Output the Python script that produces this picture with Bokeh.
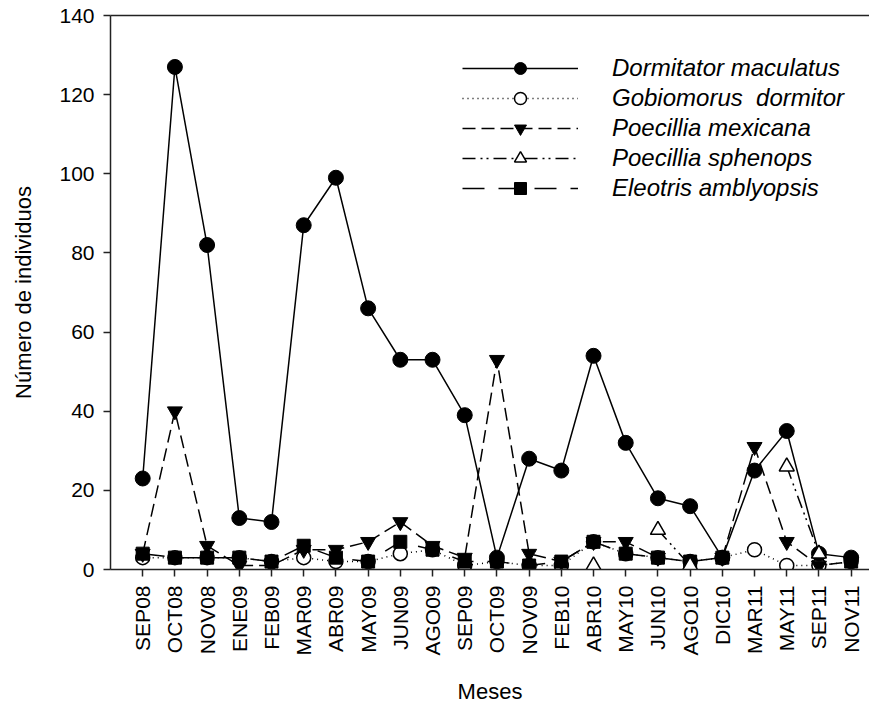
import math
from bokeh.plotting import figure
from bokeh.models import (ColumnDataSource, FixedTicker, LinearAxis, Range1d,
                          Legend, LegendItem)
from bokeh.embed import file_html
from bokeh.resources import INLINE

NaN = float("nan")

# Sampling months
months = ["SEP08", "OCT08", "NOV08", "ENE09", "FEB09", "MAR09", "ABR09", "MAY09",
          "JUN09", "AGO09", "SEP09", "OCT09", "NOV09", "FEB10", "ABR10", "MAY10",
          "JUN10", "AGO10", "DIC10", "MAR11", "MAY11", "SEP11", "NOV11"]

# Number of individuals per species (NaN = no record)
dormitator = [23, 127, 82, 13, 12, 87, 99, 66, 53, 53, 39, 3, 28, 25, 54, 32, 18, 16, 3, 25, 35, 4, 3]
gobiomorus = [3, 3, 3, 3, 2, 3, 2, 2, 4, 5, 1, 2, 1, 1, 7, 4, 3, 2, 3, 5, 1, 1, 2]
p_mexicana = [4, 40, 6, 1, 1, 5, 5, 7, 12, 6, 3, 53, 4, 2, 7, 7, 3, NaN, 3, 31, 7, 1, 2]
p_sphenops = [NaN] * 14 + [1, NaN, 10, 1, NaN, NaN, 26, 4, NaN]
eleotris = [4, 3, 3, 3, 2, 6, 3, 2, 7, 5, 2, 2, 1, 2, 7, 4, 3, 2, 3, NaN, NaN, NaN, 2]

y_ticks = [0, 20, 40, 60, 80, 100, 120, 140]

x = list(range(1, len(months) + 1))
FONT = "Liberation Sans"

p = figure(width=869, height=708, output_backend="svg", toolbar_location=None,
           x_range=Range1d(0, 23.57), y_range=Range1d(0, 140),
           min_border_left=110, min_border_right=0, min_border_top=15,
           min_border_bottom=139, background_fill_color="white",
           border_fill_color="white", outline_line_color=None)
p.grid.visible = False

# axes
xa = p.xaxis[0]
xa.ticker = FixedTicker(ticks=x)
xa.major_label_overrides = {i: m for i, m in zip(x, months)}
xa.major_label_orientation = math.pi / 2
ya = p.yaxis[0]
ya.ticker = FixedTicker(ticks=y_ticks)
for ax in (xa, ya):
    ax.axis_line_width = 1.5
    ax.axis_line_color = "#222222"
    ax.major_tick_line_color = "#222222"
    ax.major_tick_line_width = 1.5
    ax.major_tick_in = 0
    ax.major_tick_out = 7
    ax.minor_tick_line_color = None
    ax.major_label_text_font = FONT
    ax.major_label_text_font_size = "21px"
    ax.major_label_text_color = "black"
    ax.major_label_standoff = 9
    ax.axis_label_text_font = FONT
    ax.axis_label_text_font_size = "22px"
    ax.axis_label_text_font_style = "normal"
    ax.axis_label_text_color = "black"
xa.axis_label = "Meses"
xa.axis_label_standoff = 20
ya.axis_label = "Número de individuos"
ya.axis_label_standoff = 20

# plain frame line along the top
top = LinearAxis(major_tick_line_color=None, minor_tick_line_color=None,
                 major_label_text_font_size="0px", axis_line_width=1.5,
                 axis_line_color="#222222")
top.ticker = FixedTicker(ticks=[])
p.add_layout(top, "above")

src = ColumnDataSource(dict(x=x, dorm=dormitator, gobi=gobiomorus, mex=p_mexicana,
                            sph=p_sphenops, ele=eleotris))

LW = 1.5
# drawing order: open circles under the filled symbols, open triangles on top
l_gob = p.line("x", "gobi", source=src, line_color="black", line_width=LW, line_dash="1 4")
m_gob = p.scatter("x", "gobi", source=src, marker="circle", size=14,
                  fill_color="white", line_color="black", line_width=LW)
l_ele = p.line("x", "ele", source=src, line_color="black", line_width=LW, line_dash="22 14")
m_ele = p.scatter("x", "ele", source=src, marker="square", size=13,
                  fill_color="black", line_color="black")
l_mex = p.line("x", "mex", source=src, line_color="black", line_width=LW, line_dash="13 6")
m_mex = p.scatter("x", "mex", source=src, marker="inverted_triangle", size=15,
                  fill_color="black", line_color="black")
l_dor = p.line("x", "dorm", source=src, line_color="black", line_width=LW)
m_dor = p.scatter("x", "dorm", source=src, marker="circle", size=15,
                  fill_color="black", line_color="black")
l_sph = p.line("x", "sph", source=src, line_color="black", line_width=LW,
               line_dash="13 5 2 4 2 5")
m_sph = p.scatter("x", "sph", source=src, marker="triangle", size=15,
                  fill_color="white", line_color="black", line_width=LW)

legend = Legend(items=[
    LegendItem(label="Dormitator maculatus", renderers=[l_dor, m_dor]),
    LegendItem(label="Gobiomorus  dormitor", renderers=[l_gob, m_gob]),
    LegendItem(label="Poecillia mexicana", renderers=[l_mex, m_mex]),
    LegendItem(label="Poecillia sphenops", renderers=[l_sph, m_sph]),
    LegendItem(label="Eleotris amblyopsis", renderers=[l_ele, m_ele]),
], location=(352, 366))
legend.glyph_width = 116
legend.glyph_height = 30
legend.label_height = 30
legend.spacing = 0
legend.padding = 0
legend.margin = 0
legend.label_standoff = 34
legend.label_text_font = FONT
legend.label_text_font_size = "24px"
legend.label_text_font_style = "italic"
legend.label_text_color = "black"
legend.border_line_color = None
legend.background_fill_alpha = 0
p.add_layout(legend, "center")

open("out.html", "w").write(file_html(p, INLINE))
